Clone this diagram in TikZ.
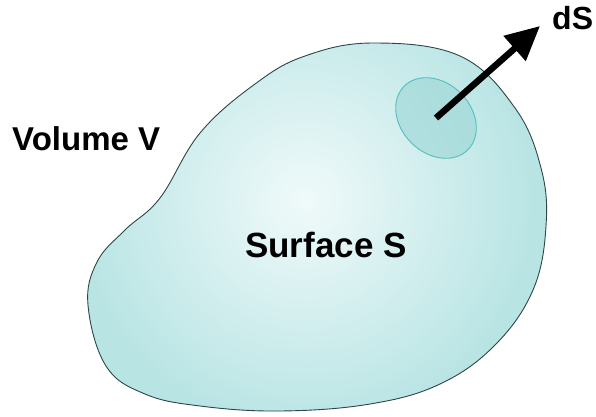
\documentclass[tikz,border=0pt]{standalone}
\usepackage{fontspec}
\setmainfont{Liberation Sans}
\usetikzlibrary{arrows.meta}
\definecolor{edgecyan}{RGB}{185,228,228}
\definecolor{centercyan}{RGB}{240,250,250}
\definecolor{outline}{RGB}{45,70,70}
\definecolor{patchfill}{RGB}{150,212,212}
\definecolor{patchline}{RGB}{85,190,190}
\tikzset{
  lbl/.style={font=\bfseries\fontsize{33}{37}\selectfont, inner sep=0pt, anchor=base west, text=black},
  normal/.style={line width=6.5pt, -{Triangle[length=34pt,width=32pt]}, black}
}
\begin{document}
\begin{tikzpicture}[x=1pt,y=-1pt]
\useasboundingbox (0,0) rectangle (596,416);
\def\blob{plot[smooth cycle, tension=0.65] coordinates {
 (373,43) (460,56) (515,108) (541,168) (546,226) (533,290) (495,345) (440,384)
 (370,404) (280,411) (200,406) (145,394) (106,366) (88,305) (97,262) (125,230)
 (160,198) (200,133) (255,84) (305,56)}}
\fill[edgecyan] \blob;
\begin{scope}
  \clip \blob;
  \shade[inner color=centercyan, outer color=edgecyan] (305,200) circle (230);
\end{scope}
\draw[outline, line width=0.9pt] \blob;
\fill[patchfill, fill opacity=0.55, draw=patchline, draw opacity=1, line width=0.9pt]
  (436,118) circle[x radius=45, y radius=35, rotate=-45];
\coordinate (ds0) at (436,118);
\coordinate (ds1) at (540,26);
\draw[normal] (ds0) -- (ds1);
\node[lbl] (vol) at (12,150) {Volume V};
\node[lbl, font=\bfseries\fontsize{35}{39}\selectfont] (surf) at (245,257) {Surface S};
\node[lbl, font=\bfseries\fontsize{32}{36}\selectfont] (dslabel) at (552,29) {dS};
\end{tikzpicture}
\end{document}
